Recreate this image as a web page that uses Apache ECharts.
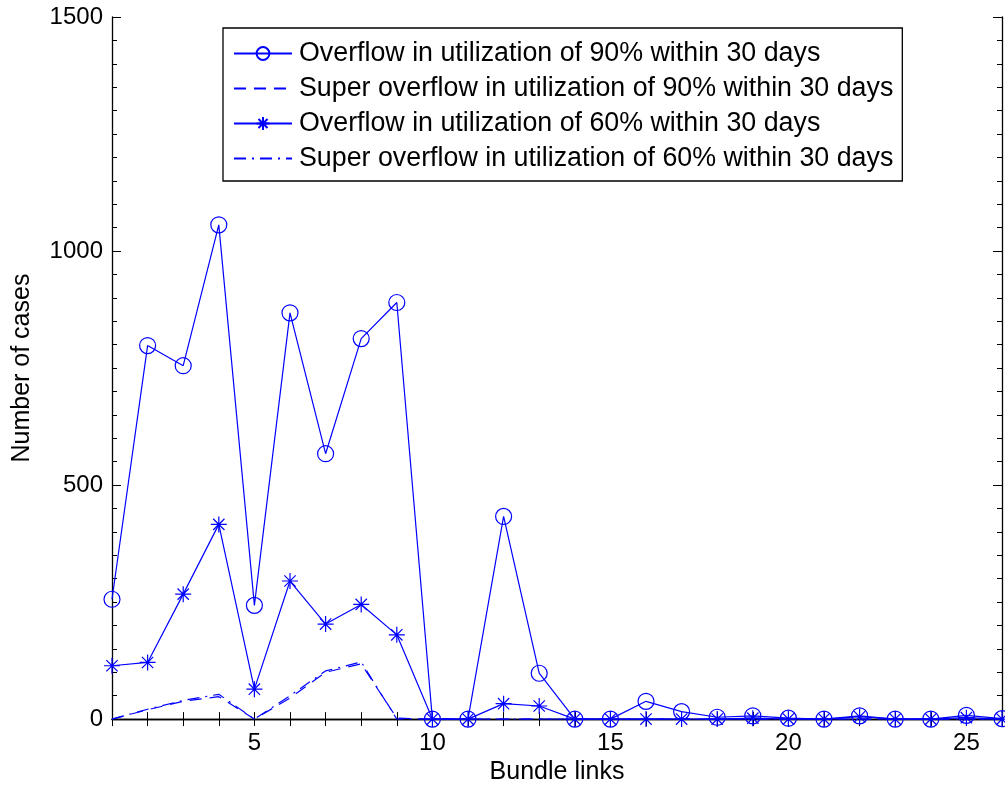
<!DOCTYPE html>
<html><head><meta charset="utf-8">
<script src="https://cdn.jsdelivr.net/npm/echarts@6/dist/echarts.min.js"></script>
<style>html,body{margin:0;padding:0;background:#fff}#c{width:1005px;height:790px}</style>
</head><body><div id="c"></div>
<script>
const bundleLinks = [1,2,3,4,5,6,7,8,9,10,11,12,13,14,15,16,17,18,19,20,21,22,23,24,25,26];
const overflow90 = [256,798,755,1056,243,868,567,813,890,0,0,433,98,0,0,38,16,4,7,2,0,7,0,0,8,1];
const superOverflow90 = [0,20,38,48,0,45,100,118,2,0,0,0,0,0,0,0,0,0,0,0,0,0,0,0,0,0];
const overflow60 = [114,121,267,416,64,295,203,245,180,0,0,33,28,0,0,0,0,0,2,0,0,5,0,0,3,0];
const superOverflow60 = [0,21,40,53,0,50,103,122,0,0,0,0,0,0,0,0,0,0,0,0,0,0,0,0,0,0];
const seriesNames = ['Overflow in utilization of 90% within 30 days','Super overflow in utilization of 90% within 30 days','Overflow in utilization of 60% within 30 days','Super overflow in utilization of 60% within 30 days'];
const yTicks = [0,500,1000,1500];

const blue = '#0000ff';
const font = 'Liberation Sans, Arial, sans-serif';
const pair = arr => bundleLinks.map((x,i)=>[x,arr[i]]);
const star = 'path://M0,-10L0,10M-10,0L10,0M-7.07,-7.07L7.07,7.07M-7.07,7.07L7.07,-7.07';

const chart = echarts.init(document.getElementById('c'), null, {renderer:'canvas'});
const axisCommon = {axisLine:{lineStyle:{color:'#000',width:1.3}}, splitLine:{show:false}};
const hiddenSym = {color:'transparent',borderColor:'transparent',borderWidth:0};
chart.setOption({
  animation:false,
  grid:{left:112,right:2,top:17,bottom:70,containLabel:false},
  legend:{
    orient:'vertical', left:223, top:28,
    data:[
      {name:seriesNames[0]},
      {name:seriesNames[1],itemStyle:hiddenSym},
      {name:seriesNames[2]},
      {name:seriesNames[3],itemStyle:hiddenSym}
    ],
    backgroundColor:'#fff', borderColor:'#000', borderWidth:1.3,
    padding:[12,9,9,10], itemWidth:58, itemHeight:16, itemGap:8,
    textStyle:{fontFamily:font,fontSize:26.8,lineHeight:26,color:'#000',padding:[0,0,0,2]}
  },
  xAxis:[
    Object.assign({type:'value',min:1,max:26,interval:1,position:'bottom',
      name:'Bundle links',nameLocation:'middle',nameGap:40,
      nameTextStyle:{fontFamily:font,fontSize:25,color:'#000'},
      axisTick:{inside:true,length:7,lineStyle:{color:'#000'}},
      axisLabel:{fontFamily:font,fontSize:24,color:'#000',margin:12,hideOverlap:false,
        formatter:v=>(v%5===0?String(v):'')}},axisCommon),
    Object.assign({type:'value',min:1,max:26,interval:1,position:'top',
      axisTick:{inside:true,length:7,lineStyle:{color:'#000'}},axisLabel:{show:false}},axisCommon)
  ],
  yAxis:[
    Object.assign({type:'value',min:yTicks[0],max:yTicks[yTicks.length-1],interval:500,position:'left',
      name:'Number of cases',nameLocation:'middle',nameGap:77,
      nameTextStyle:{fontFamily:font,fontSize:25,color:'#000'},
      axisTick:{inside:true,length:9,lineStyle:{color:'#000'}},
      minorTick:{show:true,splitNumber:10,length:5,lineStyle:{color:'#000'}},
      axisLabel:{fontFamily:font,fontSize:24,color:'#000',margin:9,formatter:v=>String(v)}},axisCommon),
    Object.assign({type:'value',min:0,max:1500,interval:500,position:'right',
      axisTick:{inside:true,length:9,lineStyle:{color:'#000'}},
      minorTick:{show:true,splitNumber:10,length:5,lineStyle:{color:'#000'}},
      axisLabel:{show:false}},axisCommon)
  ],
  series:[
    {name:seriesNames[0],type:'line',data:pair(overflow90),symbol:'circle',symbolSize:16,
     lineStyle:{color:blue,width:1.2},itemStyle:{color:'transparent',borderColor:blue,borderWidth:1.2},z:4},
    {name:seriesNames[1],type:'line',data:pair(superOverflow90),symbol:'none',
     lineStyle:{color:blue,width:1.2,type:[12,8]},itemStyle:{color:blue},z:2},
    {name:seriesNames[2],type:'line',data:pair(overflow60),symbol:star,symbolSize:16,
     lineStyle:{color:blue,width:1.2},itemStyle:{color:'transparent',borderColor:blue,borderWidth:1.2},z:3},
    {name:seriesNames[3],type:'line',data:pair(superOverflow60),symbol:'none',
     lineStyle:{color:blue,width:1.2,type:[12,6,2,6]},itemStyle:{color:blue},z:2}
  ]
});
</script></body></html>
